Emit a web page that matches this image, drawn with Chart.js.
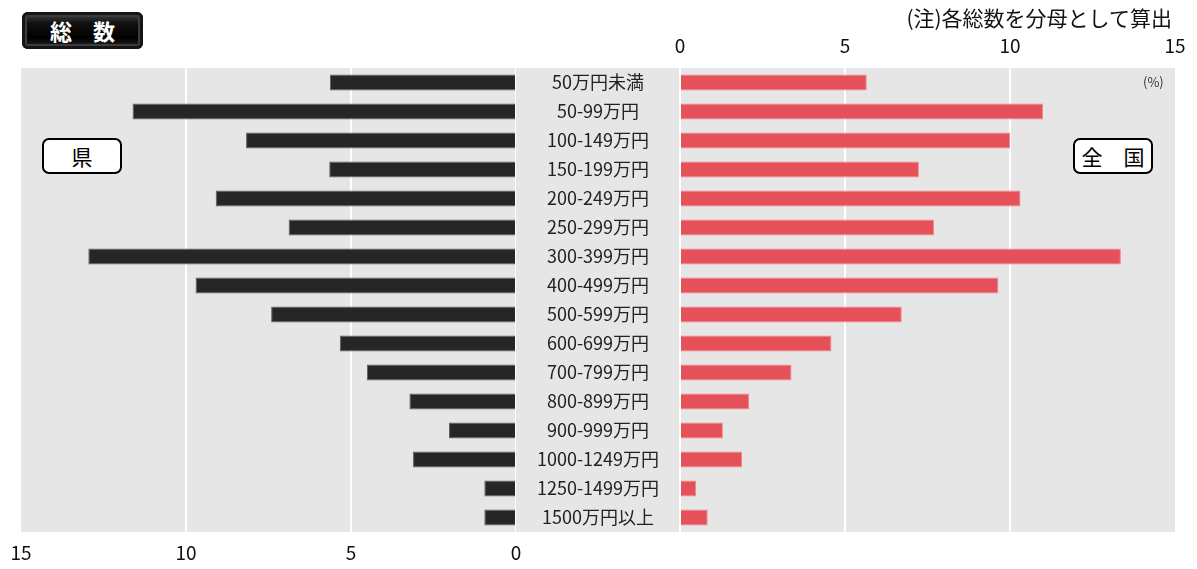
<!DOCTYPE html>
<html>
<head>
<meta charset="utf-8">
<script src="https://cdn.jsdelivr.net/npm/chart.js@4"></script>
<style>
  body { margin: 0; background: #fff; width: 1197px; height: 569px; position: relative; overflow: hidden; font-family: 'Noto Sans CJK JP', sans-serif; }
  #leftWrap { position: absolute; left: 0; top: 0; width: 540px; height: 569px; }
  #rightWrap { position: absolute; left: 516px; top: 0; width: 681px; height: 569px; }
  #badge {
    position: absolute; left: 22px; top: 12px; width: 121px; height: 37px;
    border-radius: 6px; color: #fff; text-align: center; line-height: 37px;
    font-size: 22px; font-weight: bold; letter-spacing: 8px; text-indent: 8px;
    background: linear-gradient(#4a4a4a, #111 30%, #000 70%, #2c2c2c);
    box-shadow: inset 0 0 0 3px #151515, inset 0 0 0 5px #3c3c3c;
  }
  .tag {
    position: absolute; top: 138px; width: 76px; height: 32px; border: 2px solid #000;
    border-radius: 7px; background: #fff; text-align: center; line-height: 32px; font-size: 21px; color: #000;
  }
  #note { position: absolute; right: 25px; top: 2px; font-size: 21px; color: #111; }
  #pct { position: absolute; left: 1143px; top: 72px; font-size: 13px; color: #333; }
</style>
</head>
<body>
<div id="leftWrap"><canvas id="leftChart"></canvas></div>
<div id="rightWrap"><canvas id="rightChart"></canvas></div>
<div id="badge">総 数</div>
<div class="tag" style="left:42px">県</div>
<div class="tag" style="left:1073px">全　国</div>
<div id="note">(注)各総数を分母として算出</div>
<div id="pct">(%)</div>
<script>
const categories = ['50万円未満', '50-99万円', '100-149万円', '150-199万円', '200-249万円', '250-299万円',
  '300-399万円', '400-499万円', '500-599万円', '600-699万円', '700-799万円', '800-899万円',
  '900-999万円', '1000-1249万円', '1250-1499万円', '1500万円以上'];

// 県 (prefecture), percent
const prefValues = [5.64, 11.62, 8.18, 5.66, 9.10, 6.89, 12.96, 9.71, 7.42, 5.34, 4.52, 3.23, 2.03, 3.12, 0.96, 0.96];
// 全国 (national), percent
const nationValues = [5.66, 11.00, 10.00, 7.24, 10.32, 7.70, 13.36, 9.65, 6.72, 4.59, 3.38, 2.10, 1.30, 1.88, 0.49, 0.84];

const axisMax = 15;
const axisStep = 5;

const GREY = '#e6e6e6';
const labelFont = { family: "'Noto Sans CJK JP', sans-serif", size: 18 };
const tickFont = { family: "'Noto Sans CJK JP', sans-serif", size: 19 };

// white grid lines, except at the outer edge (15)
const gridColor = ctx => (ctx.tick && ctx.tick.value === axisMax) ? 'rgba(0,0,0,0)' : '#fff';

// grey panel behind the bars
const panelBg = {
  id: 'panelBg',
  beforeDraw(chart, args, opts) {
    const { ctx, chartArea } = chart;
    ctx.save();
    ctx.fillStyle = GREY;
    const x0 = opts.fromEdge ? 0 : chartArea.left;
    ctx.fillRect(x0, chartArea.top, chartArea.right - x0, chartArea.bottom - chartArea.top);
    ctx.restore();
  }
};

// center the category labels in the 164px band
const measure = document.createElement('canvas').getContext('2d');
measure.font = labelFont.size + 'px ' + labelFont.family;
const widest = Math.max(...categories.map(c => measure.measureText(c).width));
const labelPad = Math.max(0, 82 - widest / 2);

new Chart(document.getElementById('leftChart'), {
  type: 'bar',
  data: {
    labels: categories,
    datasets: [{
      label: '県',
      data: prefValues,
      backgroundColor: 'rgb(38,38,38)',
      borderColor: 'rgb(95,95,95)',
      borderWidth: 1,
      barPercentage: 0.55,
      categoryPercentage: 1.0
    }]
  },
  options: {
    indexAxis: 'y',
    responsive: true,
    maintainAspectRatio: false,
    animation: false,
    layout: { padding: { left: 21, right: 24, top: 68, bottom: 0 } },
    plugins: { legend: { display: false }, tooltip: { enabled: false }, panelBg: { fromEdge: false } },
    scales: {
      x: {
        type: 'linear', min: 0, max: axisMax, reverse: true, position: 'bottom',
        ticks: { stepSize: axisStep, font: tickFont, color: '#111', padding: 9, maxRotation: 0 },
        grid: { color: gridColor, lineWidth: 2, drawTicks: false },
        border: { display: false },
        afterFit: s => { s.height = 37; }
      },
      y: { display: false }
    }
  },
  plugins: [panelBg]
});

new Chart(document.getElementById('rightChart'), {
  type: 'bar',
  data: {
    labels: categories,
    datasets: [{
      label: '全国',
      data: nationValues,
      backgroundColor: 'rgb(230,80,89)',
      borderColor: 'rgb(238,135,142)',
      borderWidth: 1,
      barPercentage: 0.55,
      categoryPercentage: 1.0
    }]
  },
  options: {
    indexAxis: 'y',
    responsive: true,
    maintainAspectRatio: false,
    animation: false,
    layout: { padding: { left: 0, right: 22, top: 0, bottom: 37 } },
    plugins: { legend: { display: false }, tooltip: { enabled: false }, panelBg: { fromEdge: true } },
    scales: {
      x: {
        type: 'linear', min: 0, max: axisMax, position: 'top',
        ticks: { stepSize: axisStep, font: tickFont, color: '#111', padding: 11, maxRotation: 0 },
        grid: { color: gridColor, lineWidth: 2, drawTicks: false },
        border: { display: false },
        afterFit: s => { s.height = 68; }
      },
      y: {
        position: 'left',
        ticks: { font: labelFont, color: '#222', crossAlign: 'center', padding: labelPad },
        grid: { display: false, drawTicks: false },
        border: { display: false },
        afterFit: s => { s.width = 164; }
      }
    }
  },
  plugins: [panelBg]
});
</script>
</body>
</html>
